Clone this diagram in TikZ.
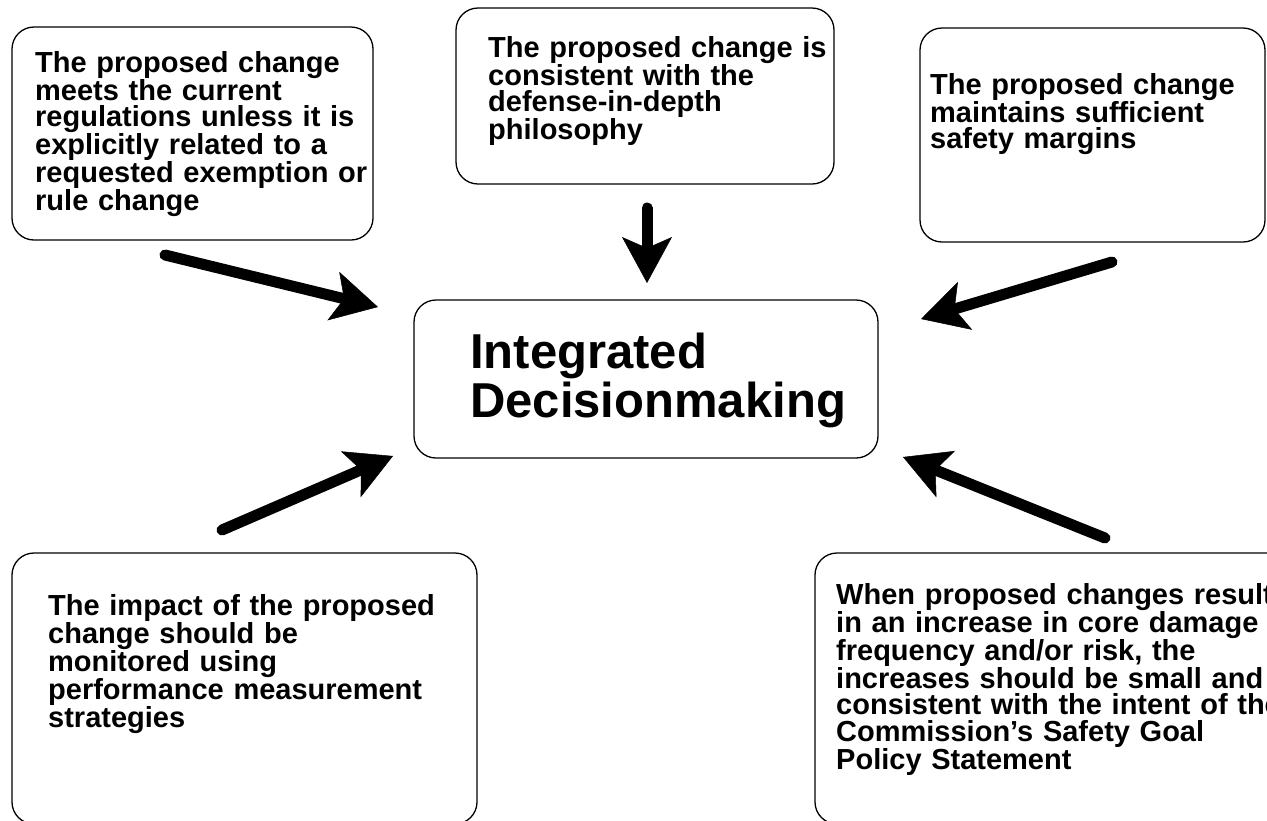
\documentclass[tikz,border=0pt]{standalone}
\usepackage{fontspec}
\setmainfont{Liberation Sans}
\usetikzlibrary{arrows.meta}
\setlength{\lineskiplimit}{-40pt}
\begin{document}
\begin{tikzpicture}[x=1pt,y=-1pt,
  box/.style={draw=black, line width=1.3pt, rounded corners=22pt, inner sep=0pt, outer sep=0pt},
  txt/.style={anchor=base west, inner sep=0pt, text width=480pt, align=left,
    font=\bfseries\fontsize{29}{26.6}\selectfont},
  bigtxt/.style={anchor=base west, inner sep=0pt, text width=480pt, align=left,
    font=\bfseries\fontsize{49}{49}\selectfont},
  flow/.style={line width=11pt, line cap=round,
    -{Stealth[length=46pt,width=50pt,inset=11pt,line width=0.5pt]}}
]
\useasboundingbox (0,0) rectangle (1267,820);
\clip (0,0) rectangle (1267,820);

% boxes
\node[box, minimum width=361pt, minimum height=213pt] (regs) at (192.5,133.5) {};
\node[box, minimum width=378pt, minimum height=176pt] (did)  at (645,96) {};
\node[box, minimum width=345pt, minimum height=214pt] (marg) at (1092.5,135) {};
\node[box, minimum width=464pt, minimum height=158pt] (idm)  at (646,379) {};
\node[box, minimum width=465pt, minimum height=271pt] (mon)  at (244.5,688.5) {};
\node[box, minimum width=475pt, minimum height=271pt] (risk) at (1052.5,688.5) {};

% texts
\node[txt] (regs-t) at (35,72) {The proposed change\\ meets the current\\ regulations unless it is\\ explicitly related to a\\ requested exemption or\\ rule change};
\node[txt] (did-t) at (488,57) {The proposed change is\\ consistent with the\\ defense-in-depth\\ philosophy};
\node[txt] (marg-t) at (930,94) {The proposed change\\ maintains sufficient\\ safety margins};
\node[bigtxt] (idm-t) at (470,368) {Integrated\\ Decisionmaking};
\node[txt] (mon-t) at (48,615) {The impact of the proposed\\ change should be\\ monitored using\\ performance measurement\\ strategies};
\node[txt] (risk-t) at (836,604) {When proposed changes result\\ in an increase in core damage\\ frequency and/or risk, the\\ increases should be small and\\ consistent with the intent of the\\ Commission's Safety Goal\\ Policy Statement};

% arrow ends
\coordinate (a1s) at (165,255);  \coordinate (a1e) at (378,307);
\coordinate (a2s) at (647,208);  \coordinate (a2e) at (647,283);
\coordinate (a3s) at (1112,262); \coordinate (a3e) at (921,319);
\coordinate (a4s) at (222,530);  \coordinate (a4e) at (393,456);
\coordinate (a5s) at (1105,538); \coordinate (a5e) at (903,457);

\draw[flow] (a1s) -- (a1e);
\draw[flow] (a2s) -- (a2e);
\draw[flow] (a3s) -- (a3e);
\draw[flow] (a4s) -- (a4e);
\draw[flow] (a5s) -- (a5e);
\end{tikzpicture}
\end{document}
